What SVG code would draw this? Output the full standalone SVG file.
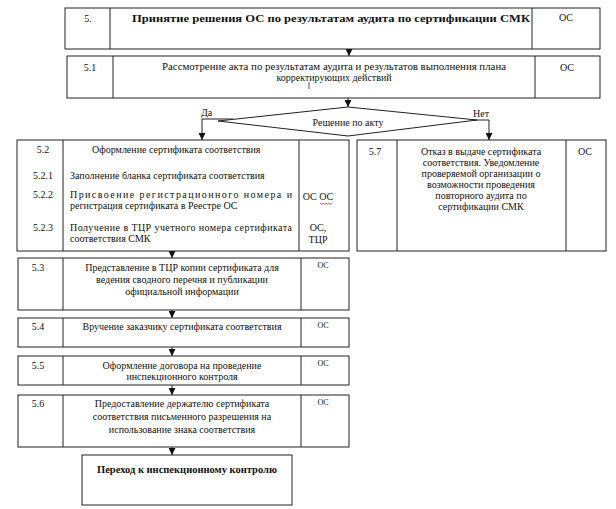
<svg xmlns="http://www.w3.org/2000/svg" width="616" height="509" viewBox="0 0 616 509">
<defs>
<marker id="arr" markerUnits="userSpaceOnUse" markerWidth="7" markerHeight="7" refX="7" refY="3.5" orient="auto">
<path d="M0,0 L7,3.5 L0,7 z" fill="#111"/>
</marker>
<style>
.box{fill:#fff;stroke:#222;stroke-width:1}
.div{stroke:#222;stroke-width:1}
text{font-family:'Liberation Serif','DejaVu Serif',serif;font-size:10px;fill:#111}
.c{text-anchor:middle}
.b{font-weight:bold;font-size:11px}
.s{font-size:8px}
.con{fill:none;stroke:#222;stroke-width:1}
</style>
</defs>
<rect width="616" height="509" fill="#fff"/>

<g id="connectors">
<line class="con" x1="349" y1="49" x2="349" y2="56" marker-end="url(#arr)"/>
<line class="con" x1="348" y1="98" x2="348" y2="107" marker-end="url(#arr)"/>
<polyline class="con" points="233,119 202,119 202,140" marker-end="url(#arr)"/>
<polyline class="con" points="460,120 489,120 489,140" marker-end="url(#arr)"/>
<line class="con" x1="172" y1="251" x2="172" y2="258" marker-end="url(#arr)"/>
<line class="con" x1="172" y1="310" x2="172" y2="318" marker-end="url(#arr)"/>
<line class="con" x1="172" y1="347" x2="172" y2="356" marker-end="url(#arr)"/>
<line class="con" x1="172" y1="385" x2="172" y2="395" marker-end="url(#arr)"/>
<line class="con" x1="172" y1="447" x2="172" y2="455" marker-end="url(#arr)"/>
</g>

<g font-family="Liberation Serif, DejaVu Serif, serif">
<g id="n5">
<rect class="box" x="65" y="8" width="535" height="41"/>
<line class="div" x1="110" y1="8" x2="110" y2="49"/>
<line class="div" x1="532" y1="8" x2="532" y2="49"/>
<text class="c" x="88" y="22">5.</text>
<text class="c b" x="331" y="22" textLength="398" lengthAdjust="spacingAndGlyphs">Принятие решения ОС по результатам аудита по сертификации СМК</text>
<text class="c" x="566" y="21">ОС</text>
</g>

<g id="n5_1">
<rect class="box" x="67" y="56" width="533" height="42"/>
<line class="div" x1="113" y1="56" x2="113" y2="98"/>
<line class="div" x1="535" y1="56" x2="535" y2="98"/>
<text class="c" x="90" y="71">5.1</text>
<text class="c" x="334" y="70" textLength="344" lengthAdjust="spacingAndGlyphs">Рассмотрение акта по результатам аудита и результатов выполнения плана</text>
<text class="c" x="334" y="81">корректирующих действий</text>
<line x1="309" y1="82" x2="309" y2="89" stroke="#222" stroke-width="0.8"/>
<text class="c" x="567" y="71">ОС</text>
</g>

<g id="decision">
<polygon class="box" points="348,107 218,121 348,136 477,120"/>
<text class="c" x="348" y="126">Решение по акту</text>
<text x="201" y="116">Да</text>
<text x="473" y="117">Нет</text>
</g>

<g id="n5_2">
<rect class="box" x="17" y="140" width="332" height="111"/>
<line class="div" x1="63" y1="140" x2="63" y2="251"/>
<line class="div" x1="299" y1="140" x2="299" y2="251"/>
<text class="c" x="43" y="153">5.2</text>
<text x="92" y="153">Оформление сертификата соответствия</text>
<text class="c" x="43" y="179">5.2.1</text>
<text x="70" y="179">Заполнение бланка сертификата соответствия</text>
<text class="c" x="43" y="198">5.2.2</text>
<text x="70" y="198" textLength="222" lengthAdjust="spacing">Присвоение регистрационного номера и</text>
<text x="70" y="209">регистрация сертификата в Реестре ОС</text>
<text class="c" x="43" y="231">5.2.3</text>
<text x="70" y="231" textLength="222" lengthAdjust="spacing">Получение в ТЦР учетного номера сертификата</text>
<text x="70" y="242">соответствия СМК</text>
<text class="c" x="318" y="200">ОС ОС</text>
<path d="M320,203 l1.5,1.5 l1.5,-1.5 l1.5,1.5 l1.5,-1.5 l1.5,1.5 l1.5,-1.5 l1.5,1.5 l1.5,-1.5" fill="none" stroke="#d22" stroke-width="0.7"/>
<text class="c" x="318" y="231">ОС,</text>
<text class="c" x="318" y="243">ТЦР</text>
</g>

<g id="n5_7">
<rect class="box" x="357" y="140" width="249" height="111"/>
<line class="div" x1="397" y1="140" x2="397" y2="251"/>
<line class="div" x1="566" y1="140" x2="566" y2="251"/>
<text class="c" x="375" y="155">5.7</text>
<text class="c" x="481" y="155">Отказ в выдаче сертификата</text>
<text class="c" x="481" y="166">соответствия. Уведомление</text>
<text class="c" x="481" y="177">проверяемой организации о</text>
<text class="c" x="481" y="188">возможности проведения</text>
<text class="c" x="481" y="199">повторного аудита  по</text>
<text class="c" x="481" y="210">сертификации СМК</text>
<text class="c" x="585" y="155">ОС</text>
</g>

<g id="n5_3">
<rect class="box" x="18" y="258" width="331" height="52"/>
<line class="div" x1="63" y1="258" x2="63" y2="310"/>
<line class="div" x1="301" y1="258" x2="301" y2="310"/>
<text class="c" x="38" y="271">5.3</text>
<text class="c" x="182" y="271">Представление в ТЦР копии сертификата для</text>
<text class="c" x="182" y="283">ведения сводного перечня и публикации</text>
<text class="c" x="182" y="295">официальной информации</text>
<text class="c s" x="323" y="268">ОС</text>
</g>

<g id="n5_4">
<rect class="box" x="18" y="318" width="331" height="29"/>
<line class="div" x1="63" y1="318" x2="63" y2="347"/>
<line class="div" x1="301" y1="318" x2="301" y2="347"/>
<text class="c" x="38" y="330">5.4</text>
<text class="c" x="182" y="330">Вручение заказчику сертификата соответствия</text>
<text class="c s" x="323" y="328">ОС</text>
</g>

<g id="n5_5">
<rect class="box" x="18" y="356" width="331" height="29"/>
<line class="div" x1="63" y1="356" x2="63" y2="385"/>
<line class="div" x1="301" y1="356" x2="301" y2="385"/>
<text class="c" x="38" y="369">5.5</text>
<text class="c" x="182" y="369">Оформление договора на проведение</text>
<text class="c" x="182" y="380">инспекционного контроля</text>
<text class="c s" x="323" y="366">ОС</text>
</g>

<g id="n5_6">
<rect class="box" x="18" y="395" width="331" height="52"/>
<line class="div" x1="63" y1="395" x2="63" y2="447"/>
<line class="div" x1="301" y1="395" x2="301" y2="447"/>
<text class="c" x="38" y="407">5.6</text>
<text class="c" x="182" y="407">Предоставление держателю сертификата</text>
<text class="c" x="182" y="420">соответствия письменного разрешения на</text>
<text class="c" x="182" y="433">использование знака соответствия</text>
<text class="c s" x="323" y="405">ОС</text>
</g>

<g id="nEnd">
<rect class="box" x="82" y="455" width="210" height="50"/>
<text class="c b" x="187" y="473" style="font-size:10.5px">Переход к инспекционному контролю</text>
</g>
</g>
</svg>
